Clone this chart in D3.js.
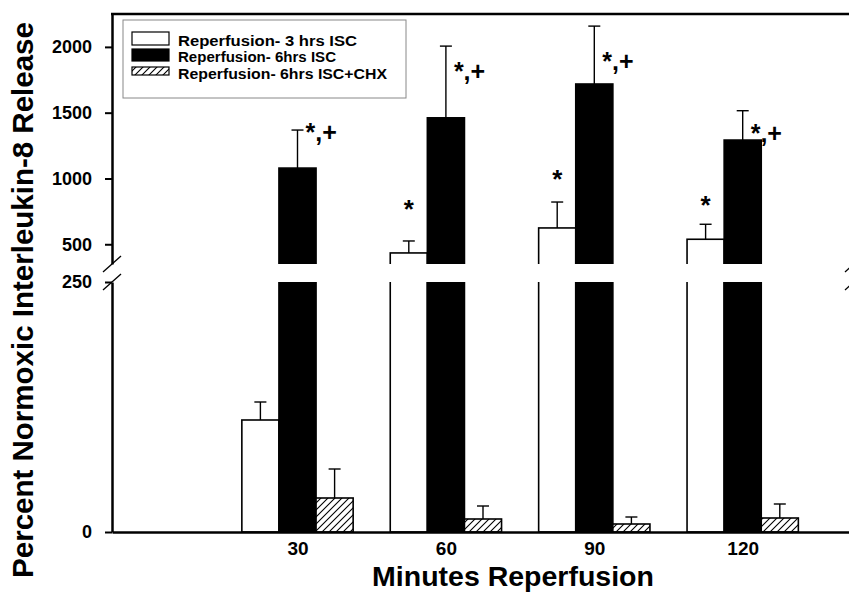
<!DOCTYPE html>
<html>
<head>
<meta charset="utf-8">
<script src="https://cdn.jsdelivr.net/npm/d3@7"></script>
<style>
    body { margin: 0; background: #fff; }
    text { font-family: "Liberation Sans", Arial, sans-serif; font-weight: bold; fill: #000; }
</style>
</head>
<body>
<div id="chart"></div>
<script>
    // values
    var minutes = [30, 60, 90, 120];
    var seriesNames = ["Reperfusion- 3 hrs ISC", "Reperfusion- 6hrs ISC", "Reperfusion- 6hrs ISC+CHX"];
    var isc3 = [112, 434, 624, 538];
    var isc3Err = [18, 91, 197, 114];
    var isc6 = [1079, 1461, 1718, 1292];
    var isc6Err = [289, 545, 440, 223];
    var chx = [34, 13, 8, 14];
    var chxErr = [29, 13, 7, 14];
    var lowTicks = [0, 250];
    var highTicks = [500, 1000, 1500, 2000];
    var starLevels = [null, 700, 928, 730];       // "*" over 3 hrs ISC
    var sigLevels = [1285, 1748, 1824, 1277];     // "*,+" by 6hrs ISC

    var w = 849,
        h = 592;

    var svg = d3.select("#chart")
        .append("svg")
        .attr("width", w)
        .attr("height", h);

    var defs = svg.append("defs");

    var pat = defs.append("pattern")
        .attr("id", "hatch")
        .attr("patternUnits", "userSpaceOnUse")
        .attr("width", 7)
        .attr("height", 7);
    pat.append("rect").attr("width", 7).attr("height", 7).attr("fill", "#fff");
    pat.append("path")
        .attr("d", "M-1,1 l2,-2 M0,7 l7,-7 M6,8 l2,-2")
        .attr("stroke", "#000")
        .attr("stroke-width", 1.1);

    var x = d3.scaleLinear().domain([-7.5, 142.5]).range([112, 854]);
    var barW = x(7.5) - x(0);
    var x1 = d3.scaleBand().domain([0, 1, 2]).range([-1.5 * barW, 1.5 * barW]);

    // broken axis: two linear pieces
    var yLow = d3.scaleLinear().domain([0, 250]).range([532, 282]);
    var yHigh = d3.scaleLinear().domain([350, 2250]).range([264, 14]);
    function yv(v) { return v > 300 ? yHigh(v) : yLow(v); }

    defs.append("clipPath").attr("id", "clipLow")
        .append("rect").attr("x", 100).attr("y", 282).attr("width", 760).attr("height", 252);
    defs.append("clipPath").attr("id", "clipHigh")
        .append("rect").attr("x", 100).attr("y", 14).attr("width", 760).attr("height", 250);

    var series = [
        { vals: isc3, errs: isc3Err, fill: "#fff", stroke: "#000" },
        { vals: isc6, errs: isc6Err, fill: "#000", stroke: "#000" },
        { vals: chx, errs: chxErr, fill: "url(#hatch)", stroke: "#000" }
    ];

    var segments = [
        { scale: yLow, clip: "url(#clipLow)", bottom: 532 },
        { scale: yHigh, clip: "url(#clipHigh)", bottom: 300 }
    ];

    segments.forEach(function (seg) {
        var g = svg.append("g").attr("clip-path", seg.clip);
        series.forEach(function (s, i) {
            g.selectAll(".bar" + i)
                .data(s.vals)
                .enter().append("rect")
                .attr("x", function (d, j) { return x(minutes[j]) + x1(i); })
                .attr("y", function (d) { return Math.min(seg.scale(d), seg.bottom); })
                .attr("width", x1.bandwidth())
                .attr("height", function (d) { return Math.max(0, seg.bottom - seg.scale(d)); })
                .attr("fill", s.fill)
                .attr("stroke", s.stroke)
                .attr("stroke-width", 1.6);
        });
    });

    // error bars, upward only
    series.forEach(function (s, i) {
        var eg = svg.append("g").attr("stroke", "#000").attr("stroke-width", 1.4);
        s.vals.forEach(function (v, j) {
            var cx = x(minutes[j]) + x1(i) + x1.bandwidth() / 2,
                y0 = yv(v),
                y1 = yv(v + s.errs[j]);
            eg.append("line").attr("x1", cx).attr("x2", cx).attr("y1", y0).attr("y2", y1);
            eg.append("line").attr("x1", cx - 6).attr("x2", cx + 6).attr("y1", y1).attr("y2", y1);
        });
    });

    // significance marks
    starLevels.forEach(function (d, j) {
        if (d === null) return;
        svg.append("text")
            .attr("x", x(minutes[j]) + x1(0) + x1.bandwidth() / 2)
            .attr("y", yv(d))
            .attr("text-anchor", "middle")
            .style("font-size", "26px")
            .text("*");
    });

    svg.selectAll(".sig")
        .data(sigLevels)
        .enter().append("text")
        .attr("x", function (d, j) { return x(minutes[j]) + 8; })
        .attr("y", function (d) { return yv(d); })
        .style("font-size", "25px")
        .text("*,+");

    // axes
    var axLow = svg.append("g")
        .attr("transform", "translate(112,0)")
        .call(d3.axisLeft(yLow).tickValues(lowTicks).tickFormat(d3.format("d"))
            .tickSize(7).tickPadding(13).tickSizeOuter(0));
    var axHigh = svg.append("g")
        .attr("transform", "translate(112,0)")
        .call(d3.axisLeft(yHigh).tickValues(highTicks).tickFormat(d3.format("d"))
            .tickSize(7).tickPadding(13).tickSizeOuter(0));
    var axX = svg.append("g")
        .attr("transform", "translate(0,532)")
        .call(d3.axisBottom(x).tickValues(minutes).tickFormat(d3.format("d"))
            .tickSize(0).tickPadding(10).tickSizeOuter(0));

    [axLow, axHigh, axX].forEach(function (a) {
        a.select(".domain").attr("stroke", "#000").attr("stroke-width", 2.5);
        a.selectAll(".tick line").attr("stroke", "#000").attr("stroke-width", 2);
        a.selectAll(".tick text")
            .attr("fill", "#000")
            .style("font-family", "'Liberation Sans', Arial, sans-serif")
            .style("font-weight", "bold");
    });
    axLow.selectAll(".tick text").style("font-size", "18px");
    axHigh.selectAll(".tick text").style("font-size", "18px");
    axX.selectAll(".tick text").style("font-size", "19px");

    // frame top and right
    svg.append("line").attr("x1", 111).attr("x2", 854).attr("y1", 14).attr("y2", 14)
        .attr("stroke", "#000").attr("stroke-width", 2.5);
    svg.append("line").attr("x1", 854).attr("x2", 854).attr("y1", 14).attr("y2", 264)
        .attr("stroke", "#000").attr("stroke-width", 2.5);
    svg.append("line").attr("x1", 854).attr("x2", 854).attr("y1", 282).attr("y2", 532)
        .attr("stroke", "#000").attr("stroke-width", 2.5);

    // break marks
    [112, 854].forEach(function (bx) {
        [yHigh(350), yLow(250)].forEach(function (by) {
            svg.append("line")
                .attr("x1", bx - 9).attr("y1", by + 8)
                .attr("x2", bx + 9).attr("y2", by - 8)
                .attr("stroke", "#000").attr("stroke-width", 1.3);
        });
    });

    // titles
    svg.append("text")
        .attr("x", 513)
        .attr("y", 586)
        .attr("text-anchor", "middle")
        .style("font-size", "28.5px")
        .text("Minutes Reperfusion");

    svg.append("text")
        .attr("transform", "translate(33,300) rotate(-90)")
        .attr("text-anchor", "middle")
        .style("font-size", "29.5px")
        .text("Percent Normoxic Interleukin-8 Release");

    // legend
    var lg = svg.append("g");
    lg.append("rect")
        .attr("x", 123).attr("y", 20).attr("width", 283).attr("height", 78)
        .attr("fill", "#fff").attr("stroke", "#888").attr("stroke-width", 1);
    var swatchY = [32, 49, 67],
        swatchH = [13, 12, 8],
        textY = [45.5, 62, 78.5],
        textW = [179, 158, 209];
    series.forEach(function (s, i) {
        lg.append("rect")
            .attr("x", 132).attr("y", swatchY[i])
            .attr("width", 37).attr("height", swatchH[i])
            .attr("fill", s.fill).attr("stroke", "#000").attr("stroke-width", 1.2);
        lg.append("text")
            .attr("x", 178).attr("y", textY[i])
            .attr("textLength", textW[i])
            .attr("lengthAdjust", "spacingAndGlyphs")
            .style("font-size", "14.5px")
            .text(seriesNames[i]);
    });
</script>
</body>
</html>
